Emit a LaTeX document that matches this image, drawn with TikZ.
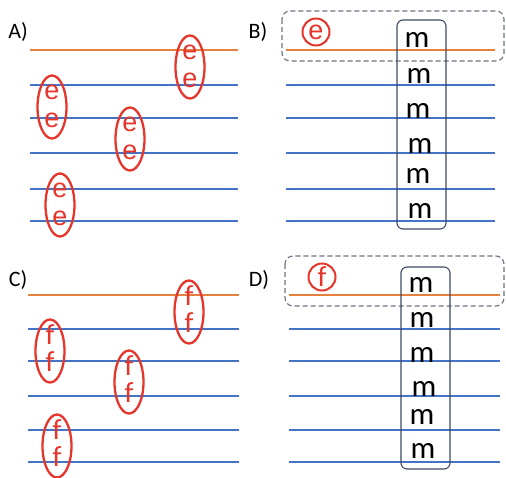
\documentclass[tikz,border=0pt]{standalone}
\usepackage{fontspec}
\setmainfont{Carlito}
\newfontfamily\arialish{Liberation Sans}
\usetikzlibrary{shapes.geometric}
\definecolor{lorange}{HTML}{E5813E}
\definecolor{lblue}{HTML}{4472C4}
\definecolor{lred}{HTML}{E6352B}
\definecolor{boxcol}{HTML}{3F4A66}
\definecolor{dashcol}{HTML}{6C7284}
\tikzset{
  oline/.style={draw=lorange, line width=2.6pt},
  bline/.style={draw=lblue, line width=2.6pt},
  pairell/.style={ellipse, draw=lred, line width=2.3pt, inner sep=0pt, minimum width=29pt, minimum height=63pt},
  eletter/.style={text=lred, font=\arialish\fontsize{27}{27}\selectfont, inner sep=0pt, anchor=base},
  fletter/.style={text=lred, font=\fontsize{29}{29}\selectfont, inner sep=0pt, anchor=base},
  mletter/.style={text=black, font=\fontsize{31}{31}\selectfont, inner sep=0pt, anchor=base},
  circled/.style={circle, draw=lred, line width=2pt, minimum size=27pt, inner sep=0pt, text=lred},
  plabel/.style={font=\fontsize{22}{22}\selectfont, inner sep=0pt},
  mbox/.style={draw=boxcol, line width=1.1pt, rounded corners=6pt},
  dbox/.style={draw=dashcol, line width=1.1pt, dashed, dash pattern=on 5pt off 3pt, rounded corners=8pt}
}
\begin{document}
\begin{tikzpicture}[x=1pt,y=-1pt]
\useasboundingbox (0,0) rectangle (506,477);
% ---------- Panel A ----------
\node[plabel] (labA) at (18,32) {A)};
\draw[oline] (30,50) -- (238,50);
\foreach \y in {85,118,153,189,221} \draw[bline] (30,\y) -- (238,\y);
\foreach \n/\x/\y in {a1/190/67, a2/52/107, a3/130/139, a4/60/205}{
  \node[pairell] (\n) at (\x,\y) {};
  \node[eletter] (\n t) at (\x,\y-7.5) {e};
  \node[eletter] (\n b) at (\x,\y+20.5) {e};
}
% ---------- Panel B ----------
\node[plabel] (labB) at (258,32) {B)};
\draw[dbox] (282,11) rectangle (504,61);
\draw[oline] (286,50) -- (495,50);
\foreach \y in {85,118,153,189,221} \draw[bline] (286,\y) -- (495,\y);
\node[circled, font=\arialish\fontsize{27}{27}\selectfont] (ceB) at (316,32) {\raisebox{0pt}[1ex][0pt]{e}};
\draw[mbox] (397,20) rectangle (446,229);
\foreach \n/\x/\y in {mb1/417/47, mb2/419/83, mb3/418/118, mb4/420/153, mb5/418/183, mb6/420/218}
  \node[mletter] (\n) at (\x,\y) {m};
% ---------- Panel C ----------
\node[plabel] (labC) at (18,280) {C)};
\draw[oline] (28,295) -- (239,295);
\foreach \y in {329,361,396,430,462} \draw[bline] (28,\y) -- (239,\y);
\foreach \n/\x/\y in {c1/189/312, c2/50/351, c3/129/382, c4/57/446}{
  \node[pairell] (\n) at (\x,\y) {};
  \node[fletter] (\n t) at (\x,\y-6.5) {f};
  \node[fletter] (\n b) at (\x,\y+20.5) {f};
}
% ---------- Panel D ----------
\node[plabel] (labD) at (259,280) {D)};
\draw[dbox] (285,256) rectangle (504,306);
\draw[oline] (289,295) -- (500,295);
\foreach \y in {329,361,396,430,462} \draw[bline] (289,\y) -- (500,\y);
\node[circled, font=\fontsize{29}{29}\selectfont] (cfD) at (322,277) {f};
\draw[mbox] (401,267) rectangle (450,469);
\foreach \n/\x/\y in {md1/421/292, md2/422/327, md3/422/362, md4/424/396, md5/422/424, md6/423/458}
  \node[mletter] (\n) at (\x,\y) {m};
\end{tikzpicture}
\end{document}
